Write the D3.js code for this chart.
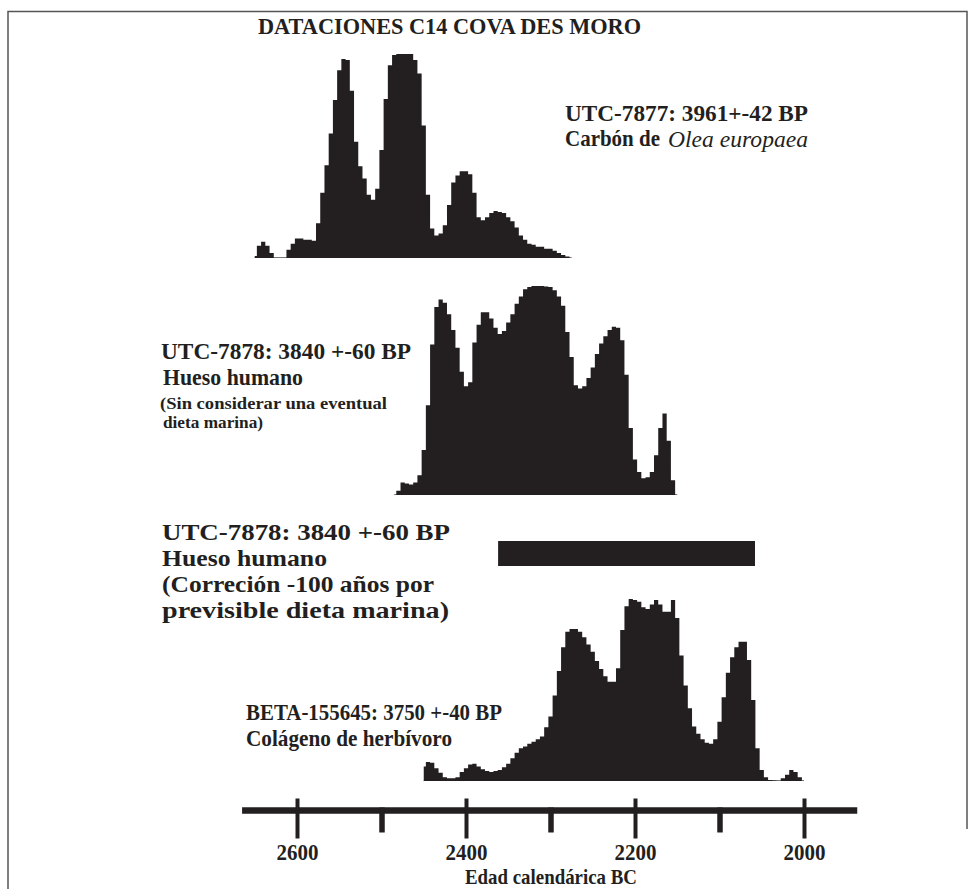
<!DOCTYPE html>
<html lang="es">
<head>
<meta charset="UTF-8">
<script src="https://d3js.org/d3.v7.min.js"></script>
<title>Dataciones C14 Cova des Moro</title>
<style>
  body { margin: 0; background: #fff; }
  svg text { font-family: "Liberation Serif", "Times New Roman", serif; font-weight: bold; fill: #231f20; }
</style>
</head>
<body>
<script>
// probabilidad relativa (% del maximo), un valor cada 5 anos, del mas antiguo al mas reciente
var step = 5;

var start7877 = 2650;
var prob7877 = [1, 6, 8, 6, 2.5, 0, 0, 0, 4, 7,
  9.5, 9.5, 9, 9, 8.5, 17, 32, 45.5, 61, 77.5,
  92, 97.5, 97, 82, 57, 45, 39, 31, 28.5, 34,
  53, 78, 94.5, 99.5, 100, 100, 100, 100, 97, 90.5,
  65, 31, 14.5, 11, 12, 16, 26, 37, 40.5, 42.5,
  42.5, 41, 32, 20, 18.5, 20, 22, 23, 22.5, 22,
  20, 18, 15, 11, 9, 7, 6.5, 5.5, 5.5, 4.5,
  4.5, 3.5, 2.5, 1.5, 0.7, 0];

var start7878 = 2485;
var prob7878 = [0, 2, 6, 5.5, 5, 6, 9.5, 21.5, 43, 72,
  90, 93.5, 92, 86.5, 79, 70.5, 59, 52, 54, 73,
  81.5, 87.5, 87.5, 84.5, 80, 77, 78.5, 82.5, 86.5, 91.5,
  95, 98.5, 99.5, 100, 100, 100, 99.8, 99.5, 98, 95,
  90.5, 78, 66, 52.5, 51, 52, 56, 61, 67.5, 72.5,
  76, 79, 80.5, 80, 74, 57.5, 32, 17, 11, 8,
  8.5, 11, 19, 32, 39, 26, 7, 0];

var startBeta = 2450;
var probBeta = [8, 10.5, 10, 7, 4.5, 2, 1.5, 1.5, 2, 5,
  7, 9, 9.5, 8, 6.5, 5.5, 5, 5.5, 6, 7.5,
  9.5, 12.5, 15.5, 18, 19, 20.5, 21.5, 23, 24.5, 29.5,
  35.5, 47, 60.5, 73.5, 82, 83.5, 83.5, 82, 79, 75,
  71, 66, 61.5, 57.5, 54.5, 54.5, 62, 83, 96, 100,
  99.5, 98.5, 95.5, 94.5, 97, 99.5, 97, 93, 93, 99.5,
  89.5, 69, 52.5, 40, 30, 26, 23, 21, 20.5, 23,
  32.5, 46, 59.5, 68, 73.5, 76.5, 76.5, 66.5, 44.5, 18,
  6, 2, 0.5, 0.3, 0, 1.5, 3.5, 6, 5, 2,
  0];

// intervalo calibrado de UTC-7878 corregido (-100 anos)
var range7878corr = [2362, 2058];

var majorTicks = [2600, 2400, 2200, 2000];
var minorTicks = [2500, 2300, 2100];
var axisSpan = [2665, 1937];

function series(start, probs) {
  return probs.map(function(p, i) { return {year: start - i * step, p: p}; });
}

var width = 980, height = 889;
var ink = '#231f20';

var svg = d3.select('body').append('svg')
  .attr('width', width)
  .attr('height', height);

// marco
svg.append('path')
  .attr('d', 'M8,' + height + 'V11.5H967V829')
  .attr('fill', 'none')
  .attr('stroke', '#555')
  .attr('stroke-width', 1.5);

var x = d3.scaleLinear().domain([2600, 2000]).range([297, 804]);

function drawDist(data, base, top) {
  var y = d3.scaleLinear().domain([0, 100]).range([base, top]);
  var area = d3.area()
    .x(function(d) { return x(d.year); })
    .y0(base)
    .y1(function(d) { return y(d.p); })
    .curve(d3.curveStep);
  svg.append('line')
    .attr('x1', x(data[0].year)).attr('x2', x(data[data.length - 1].year))
    .attr('y1', base - 0.5).attr('y2', base - 0.5)
    .attr('stroke', '#777').attr('stroke-width', 1);
  svg.append('path')
    .datum(data)
    .attr('fill', ink)
    .attr('d', area);
}

drawDist(series(start7877, prob7877), 258, 54);
drawDist(series(start7878, prob7878), 495, 286);
drawDist(series(startBeta, probBeta), 781, 599);

svg.append('rect')
  .attr('x', x(range7878corr[0]))
  .attr('width', x(range7878corr[1]) - x(range7878corr[0]))
  .attr('y', 541)
  .attr('height', 25)
  .attr('fill', ink);

// eje
var axisY = 810.5;
svg.append('line')
  .attr('x1', x(axisSpan[0])).attr('x2', x(axisSpan[1]))
  .attr('y1', axisY).attr('y2', axisY)
  .attr('stroke', ink).attr('stroke-width', 6.5);

var gMajor = svg.append('g')
  .attr('transform', 'translate(0,' + axisY + ')')
  .call(d3.axisBottom(x).tickValues(majorTicks).tickSize(28).tickFormat(d3.format('d')));
gMajor.select('.domain').remove();
gMajor.selectAll('.tick line')
  .attr('y1', -12)
  .attr('stroke', ink)
  .attr('stroke-width', 4);
gMajor.selectAll('.tick text')
  .attr('y', 49.5)
  .attr('dy', null)
  .attr('font-size', 23)
  .attr('font-family', null)
  .attr('textLength', 42)
  .attr('lengthAdjust', 'spacingAndGlyphs')
  .style('fill', ink);

var gMinor = svg.append('g')
  .attr('transform', 'translate(0,' + axisY + ')')
  .call(d3.axisBottom(x).tickValues(minorTicks).tickSize(22).tickFormat(''));
gMinor.select('.domain').remove();
gMinor.selectAll('.tick line')
  .attr('y1', -3)
  .attr('stroke', ink)
  .attr('stroke-width', 5.5);

// textos
function label(tx, ty, str, size, len, italic, anchor) {
  var t = svg.append('text')
    .attr('x', tx).attr('y', ty)
    .attr('font-size', size)
    .text(str);
  if (len) t.attr('textLength', len).attr('lengthAdjust', 'spacingAndGlyphs');
  if (italic) t.attr('font-style', 'italic').style('font-weight', 'normal');
  if (anchor) t.attr('text-anchor', anchor);
  return t;
}

label(258, 34, 'DATACIONES C14 COVA DES MORO', 24, 383);

label(565, 121, 'UTC-7877: 3961+-42 BP', 24, 243);
label(565, 146, 'Carbón de', 23, 95);
label(668, 147, 'Olea europaea', 24, 140, true);

label(161, 359, 'UTC-7878: 3840 +-60 BP', 23, 250);
label(163, 385, 'Hueso humano', 23, 140);
label(160, 409, '(Sin considerar una eventual', 17.5, 227);
label(163, 428, 'dieta marina)', 17.5, 100);

label(162, 540, 'UTC-7878: 3840 +-60  BP', 24, 288);
label(162, 566, 'Hueso humano', 24, 165);
label(162, 592, '(Correción -100 años por', 24, 272);
label(162, 618, 'previsible dieta marina)', 24, 287);

label(246, 720, 'BETA-155645: 3750  +-40 BP', 23, 256);
label(246, 746, 'Colágeno de herbívoro', 23, 206);

label(551, 884, 'Edad calendárica BC', 22, 172, false, 'middle');
</script>
</body>
</html>
